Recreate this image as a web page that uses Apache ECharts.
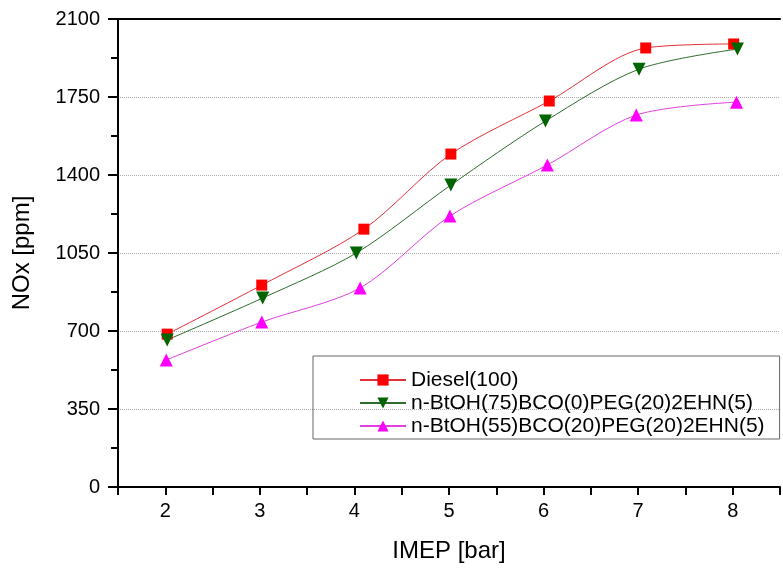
<!DOCTYPE html>
<html>
<head>
<meta charset="utf-8">
<script src="https://cdn.jsdelivr.net/npm/echarts@6/dist/echarts.min.js"></script>
<style>
html,body{margin:0;padding:0;background:#fff;}
#chart{width:783px;height:570px;}
</style>
</head>
<body>
<div id="chart"></div>
<script>
// values
var imepDiesel=[2.02,3.02,4.1,5.02,6.06,7.08,8.01];
var noxDiesel=[686,906,1157,1494,1732,1970,1988];
var imepB75=[2.02,3.03,4.02,5.02,6.02,7.01,8.05];
var noxB75=[660,848,1050,1355,1642,1875,1965];
var imepB55=[2.01,3.02,4.06,5.01,6.04,6.98,8.04];
var noxB55=[570,740,893,1216,1445,1669,1727];
var names=['Diesel(100)','n-BtOH(75)BCO(0)PEG(20)2EHN(5)','n-BtOH(55)BCO(20)PEG(20)2EHN(5)'];

function pairs(xs,ys){
    var out=[];
    for(var i=0;i<xs.length;i++){ out.push([xs[i],ys[i]]); }
    return out;
}

var font='Liberation Sans, Arial, sans-serif';
var myChart=echarts.init(document.getElementById('chart'));
var option={
    animation:false,
    backgroundColor:'#fff',
    grid:{left:118,right:-10,top:19,bottom:83},
    legend:{
        orient:'vertical',
        left:313,
        top:356,
        padding:[13,15,2,46],
        itemGap:1,
        itemWidth:46,
        itemHeight:14,
        borderColor:'#666',
        borderWidth:1,
        textStyle:{fontFamily:font,fontSize:21,lineHeight:22,color:'#000'},
        data:names
    },
    xAxis:[{
        type:'value',
        min:1.5,max:8.5,interval:0.5,
        name:'IMEP [bar]',
        nameLocation:'middle',
        nameGap:52,
        nameTextStyle:{fontFamily:font,fontSize:24,color:'#000'},
        axisLine:{lineStyle:{color:'#000',width:2}},
        axisTick:{length:8,lineStyle:{color:'#000',width:2}},
        axisLabel:{
            margin:14,fontFamily:font,fontSize:20,color:'#000',
            formatter:function(v){ return v%1===0 ? String(v) : ''; }
        },
        splitLine:{show:false}
    },{
        type:'value',position:'top',
        min:1.5,max:8.5,
        axisLine:{show:true,lineStyle:{color:'#000',width:2}},
        axisTick:{show:false},axisLabel:{show:false},splitLine:{show:false}
    }],
    yAxis:{
        type:'value',
        min:0,max:2100,interval:350,
        name:'NOx [ppm]',
        nameLocation:'middle',
        nameGap:84,
        nameTextStyle:{fontFamily:font,fontSize:24,color:'#000'},
        axisLine:{show:true,lineStyle:{color:'#000',width:2}},
        axisTick:{length:10,lineStyle:{color:'#000',width:2}},
        minorTick:{show:true,splitNumber:2,length:7,lineStyle:{color:'#000',width:2}},
        axisLabel:{
            margin:18,fontFamily:font,fontSize:20,color:'#000',
            formatter:function(v){ return String(v); }
        },
        splitLine:{show:true,lineStyle:{color:'#aaa',type:'dotted',width:1}}
    },
    series:[{
        name:names[0],type:'line',smooth:0.3,
        data:pairs(imepDiesel,noxDiesel),
        symbol:'rect',symbolSize:11,
        itemStyle:{color:'#ff0000'},
        lineStyle:{color:'#e0303a',width:1}
    },{
        name:names[1],type:'line',smooth:0.3,
        data:pairs(imepB75,noxB75),
        symbol:'triangle',symbolRotate:180,symbolSize:13,
        itemStyle:{color:'#006400'},
        lineStyle:{color:'#2e6b2e',width:1}
    },{
        name:names[2],type:'line',smooth:0.3,
        data:pairs(imepB55,noxB55),
        symbol:'triangle',symbolSize:13,
        itemStyle:{color:'#ff00ff'},
        lineStyle:{color:'#e040e0',width:1}
    }]
};
myChart.setOption(option);
</script>
</body>
</html>
